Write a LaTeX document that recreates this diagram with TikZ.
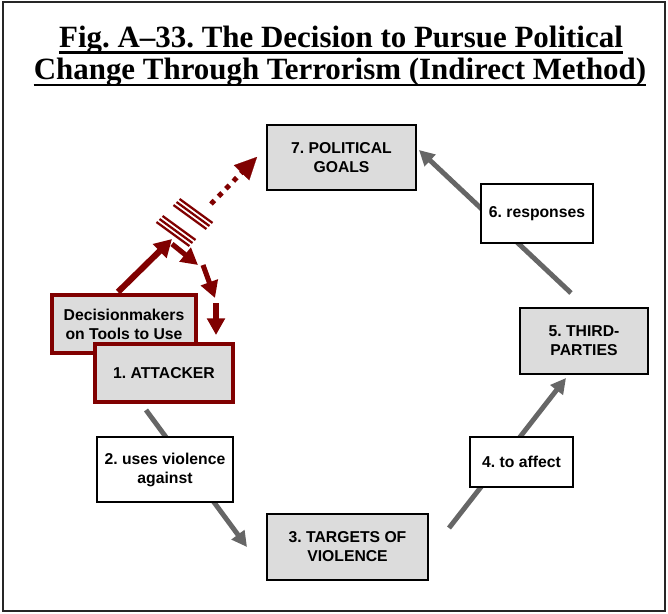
\documentclass[tikz,border=0pt]{standalone}
\usepackage{fontspec}
\setmainfont{Liberation Serif}
\newfontfamily\boxfont{Liberation Sans}
\usetikzlibrary{arrows.meta,calc}
\definecolor{dred}{HTML}{800000}
\definecolor{agray}{HTML}{666666}
\definecolor{bfill}{HTML}{DCDCDC}
\frenchspacing
\begin{document}
\begin{tikzpicture}[x=0.75pt,y=-0.75pt,
  graybox/.style={draw=black,line width=1.8pt,fill=bfill,align=center,inner sep=0pt,
    font=\boxfont\bfseries\fontsize{11.8pt}{14.2pt}\selectfont},
  whitebox/.style={draw=black,line width=0.8pt,fill=white,align=center,inner sep=0pt,
    font=\boxfont\bfseries\fontsize{11.8pt}{14.2pt}\selectfont},
  redbox/.style={draw=dred,line width=3pt,fill=bfill,align=center,inner sep=0pt,
    font=\boxfont\bfseries\fontsize{11.8pt}{14.2pt}\selectfont},
  grayarrow/.style={draw=agray,line width=3.7pt,-{Triangle[length=11.5pt,width=11.5pt]}},
  redarrow/.style={draw=dred,line width=4.6pt,-{Triangle[length=13pt,width=14pt]}},
  dasharrow/.style={draw=dred,line width=3.8pt,-{Triangle[length=12.5pt,width=13pt]}},
  breakline/.style={draw=dred,line width=1.7pt},
  titlefont/.style={font=\bfseries\fontsize{23.2pt}{24pt}\selectfont,inner sep=0pt,anchor=base}
]
\useasboundingbox (0,0) rectangle (668,614);
\draw[line width=1.5pt,draw=black!85] (3,2) rectangle (665,611);

% title
\node[titlefont] (t1) at (341,47) {Fig. A--33. The Decision to Pursue Political};
\node[titlefont] (t2) at (340,79.5) {Change Through Terrorism (Indirect Method)};
\draw[line width=1.9pt] ([yshift=-4pt]t1.base west) -- ([yshift=-4pt]t1.base east);
\draw[line width=1.9pt] ([yshift=-4pt]t2.base west) -- ([yshift=-4pt]t2.base east);

% arrow end points
\coordinate (a23s) at (146,410);
\coordinate (a23e) at (247,547);
\coordinate (a45s) at (449,528);
\coordinate (a45e) at (566,378);
\coordinate (a67s) at (571,293);
\coordinate (a67e) at (419,150);

\draw[grayarrow] (a23s) -- (a23e);
\draw[grayarrow] (a45s) -- (a45e);
\draw[grayarrow] (a67s) -- (a67e);

% boxes
\node[graybox,minimum width=111.75pt,minimum height=48.75pt] (n7) at (341.5,157.5) {7. POLITICAL\\GOALS};
\node[whitebox,minimum width=84pt,minimum height=44.25pt] (n6) at (537,213.5) {6. responses};
\node[graybox,minimum width=96pt,minimum height=49.5pt] (n5) at (584,341) {5. THIRD-\\PARTIES};
\node[whitebox,minimum width=77.25pt,minimum height=37.5pt] (n4) at (521.5,462) {4. to affect};
\node[graybox,minimum width=120.75pt,minimum height=49.5pt] (n3) at (347.5,547) {3. TARGETS OF\\VIOLENCE};
\node[whitebox,minimum width=102pt,minimum height=48.75pt] (n2) at (165,469.5) {2. uses violence\\against};
\node[redbox,minimum width=108pt,minimum height=43.5pt] (dm) at (124,324) {Decisionmakers\\on Tools to Use};
\node[redbox,minimum width=103.5pt,minimum height=43.5pt] (n1) at (164,373) {1. ATTACKER};

% red arrow
\coordinate (rs) at (118,292);
\coordinate (re) at (172,239);
\draw[redarrow] (rs) -- (re);

% break symbol: two groups of three lines
\foreach \cx/\cy in {176/231,193/214}{
  \foreach \o in {-4.3,0,4.3}{
    \draw[breakline] ($(\cx,\cy)+({\o*0.707},{-1*\o*0.707})+(-16.5,-12)$) -- ($(\cx,\cy)+({\o*0.707},{-1*\o*0.707})+(16.5,12)$);
  }
}

% dotted arrow to goals
\coordinate (ds) at (211,204);
\coordinate (de) at (257,157);
\draw[draw=dred,line width=3.7pt,dash pattern=on 3.7pt off 4.3pt] (ds) -- ($(de)!12pt!(ds)$);
\draw[draw=dred,line width=0.1pt,fill=dred] (de) -- ($(de)!16.5pt!(ds)!8pt!90:(ds)$) -- ($(de)!16.5pt!(ds)!8pt!-90:(ds)$) -- cycle;

% dashed arrows down to attacker
\coordinate (d1s) at (172,244);
\coordinate (d1e) at (198,265);
\coordinate (d2s) at (203,265);
\coordinate (d2e) at (215,298);
\coordinate (d3s) at (216,303);
\coordinate (d3e) at (216,335);
\draw[dasharrow] (d1s) -- (d1e);
\draw[dasharrow] (d2s) -- (d2e);
\draw[dasharrow] (d3s) -- (d3e);
\end{tikzpicture}
\end{document}
